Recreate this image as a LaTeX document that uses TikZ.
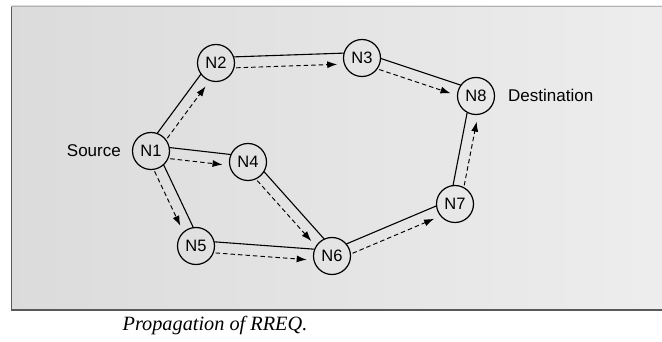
\documentclass[tikz,border=0pt]{standalone}
\usepackage{fontspec}
\setmainfont{Liberation Sans}
\newfontfamily\captionserif{Liberation Serif}
\usetikzlibrary{calc,arrows.meta}
\definecolor{panelleft}{gray}{0.86}
\definecolor{panelright}{gray}{0.93}
\definecolor{frameline}{gray}{0.35}
% solid link on the left of the travel direction, dashed RREQ arrow on the right
\newcommand\rreqhop[2]{%
  \draw[link] ($(#1)!5.5pt!90:(#2)$) -- ($(#2)!5.5pt!-90:(#1)$);
  \draw[rreq] ($(#1)!5.5pt!-90:(#2)$) -- ($(#2)!5.5pt!90:(#1)$);}
\begin{document}
\begin{tikzpicture}[x=1pt,y=-1pt,
  station/.style={circle,draw,line width=1.2pt,minimum size=37pt,inner sep=0pt,
    font=\fontsize{16.5}{16.5}\selectfont},
  link/.style={line width=1.1pt,shorten <=18pt,shorten >=18pt},
  rreq/.style={line width=0.95pt,dash pattern=on 4.5pt off 3pt,
    shorten <=20pt,shorten >=25pt,-{Latex[length=10pt,width=7pt]}},
  tag/.style={inner sep=0pt,font=\fontsize{17}{17}\selectfont}]
\useasboundingbox (0,0) rectangle (662,342);
% grey panel with its frame
\shade[left color=panelleft,right color=panelright] (11,6) rectangle (662,310);
\draw[frameline,line width=1pt] (11,6) -- (11,310);
\draw[frameline,line width=1.4pt] (11,310) -- (662,310);
\draw[gray!60,line width=0.8pt] (11,6) -- (662,6);
% stations
\node[station] (n1) at (151,151) {N1};
\node[station] (n2) at (216,63) {N2};
\node[station] (n3) at (362,58) {N3};
\node[station] (n4) at (248,162) {N4};
\node[station] (n5) at (196,246) {N5};
\node[station] (n6) at (332,256) {N6};
\node[station] (n7) at (455,204) {N7};
\node[station] (n8) at (476,96) {N8};
% labels
\node[tag,anchor=east] (src) at (121,151) {Source};
\node[tag,anchor=west] (dst) at (508,95) {Destination};
% request propagation
\rreqhop{n1}{n2}
\rreqhop{n2}{n3}
\rreqhop{n3}{n8}
\rreqhop{n1}{n4}
\rreqhop{n1}{n5}
\rreqhop{n4}{n6}
\rreqhop{n5}{n6}
\rreqhop{n6}{n7}
\rreqhop{n7}{n8}
% caption
\node[inner sep=0pt,font=\captionserif\itshape\fontsize{20.3}{22}\selectfont] (cap) at (215,326) {Propagation of RREQ.};
\end{tikzpicture}
\end{document}
